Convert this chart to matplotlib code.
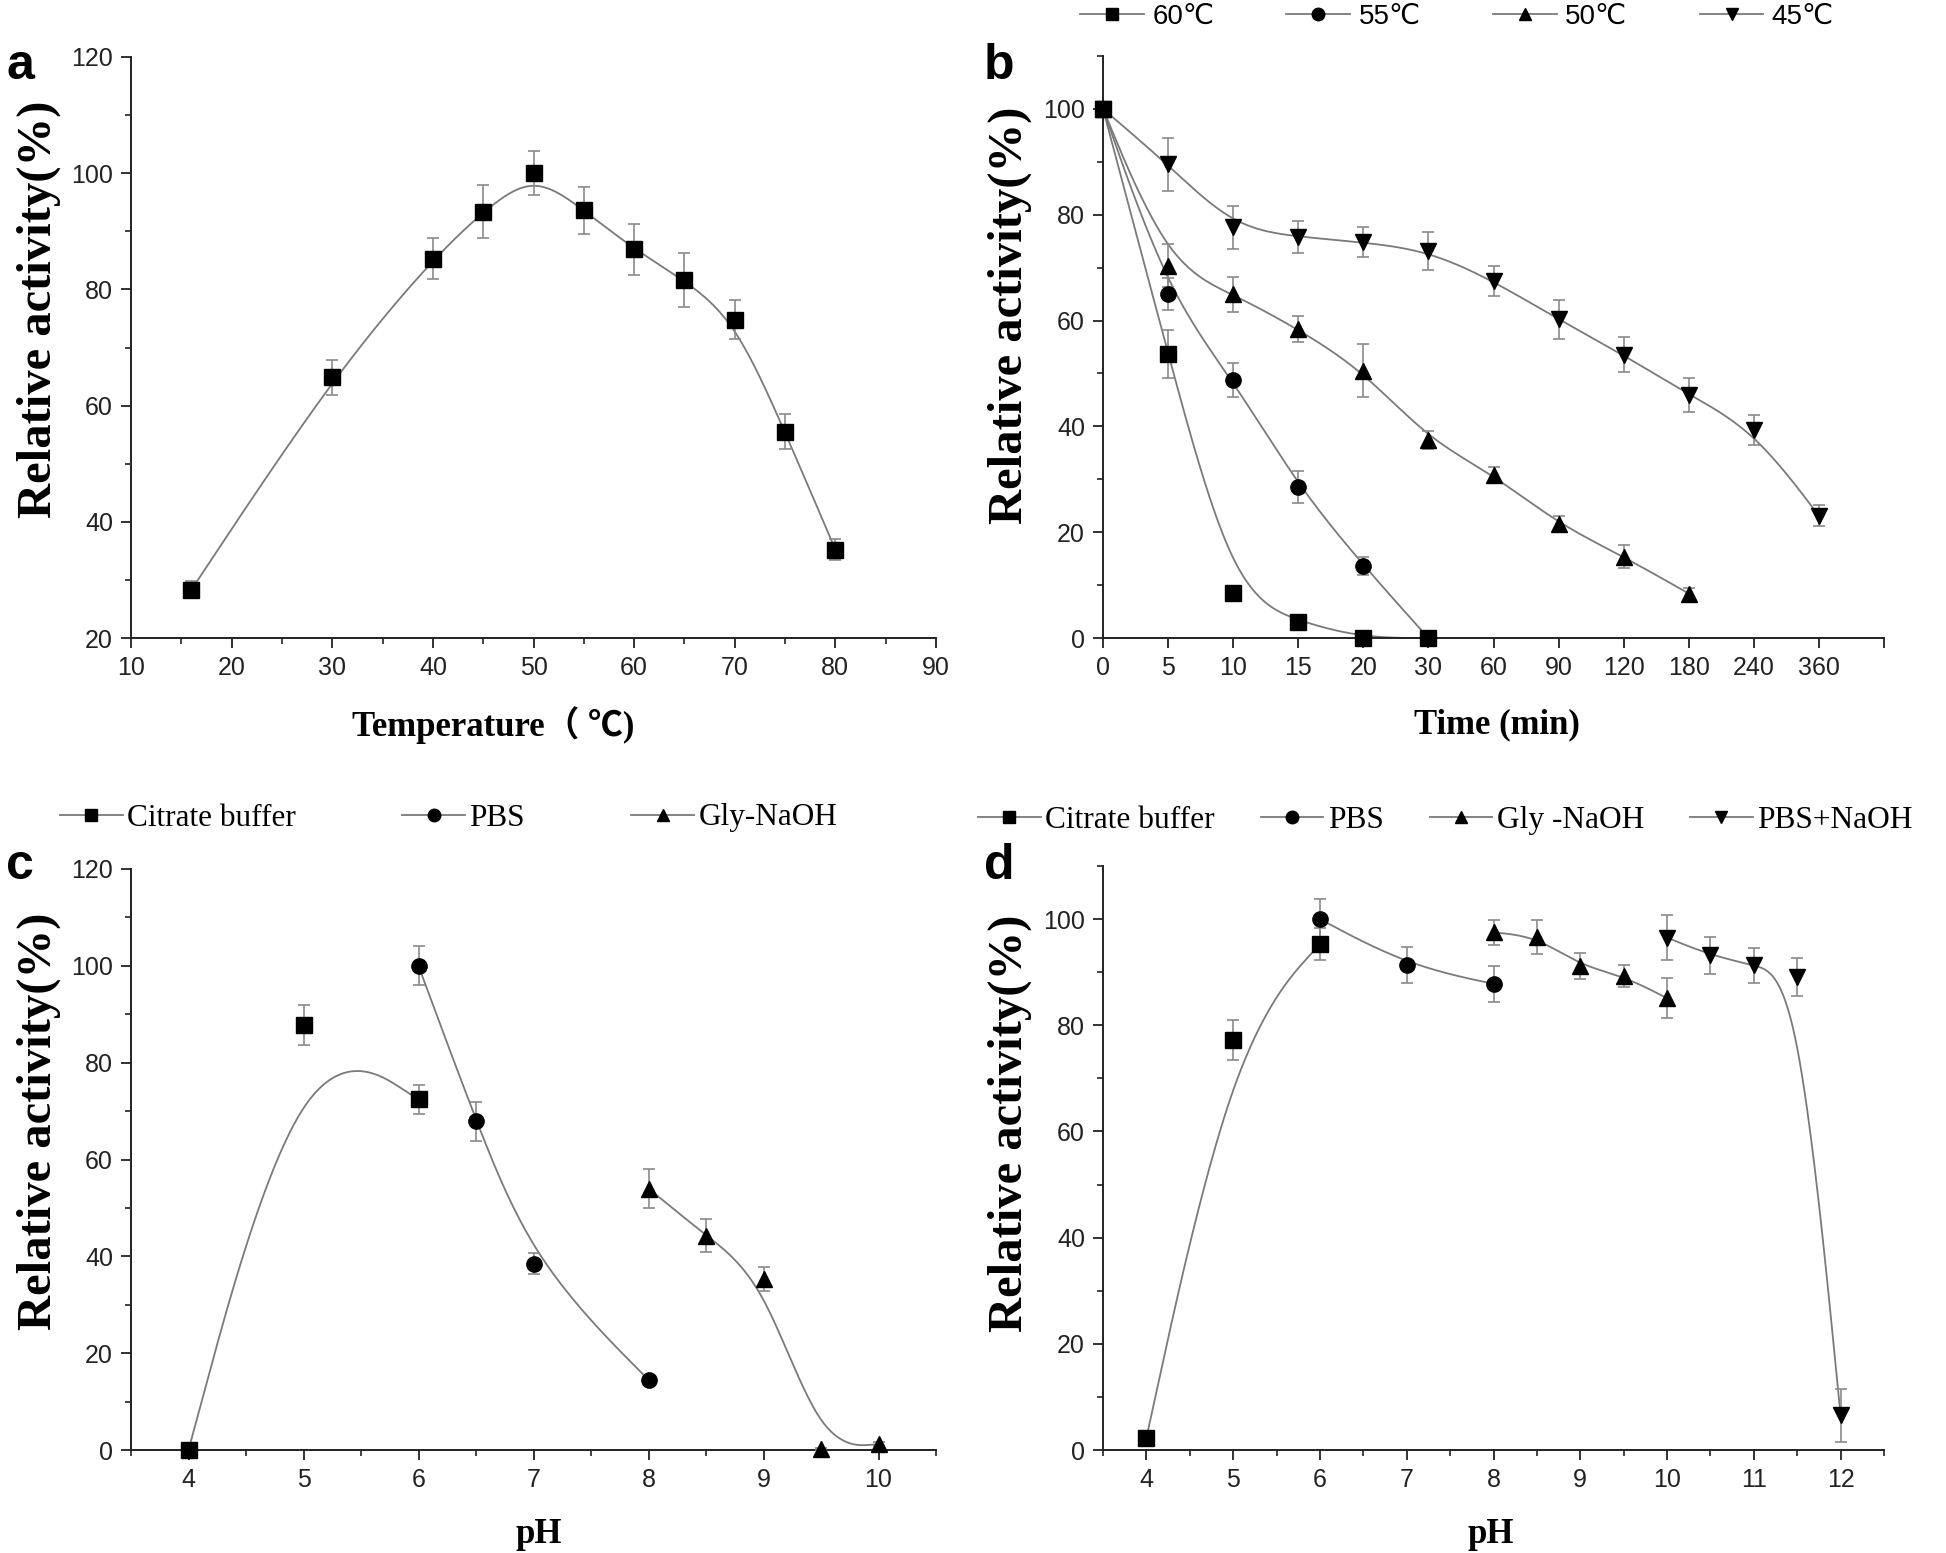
import numpy as np
import matplotlib
matplotlib.use('agg')
import matplotlib.pyplot as plt
from matplotlib.lines import Line2D
from matplotlib.ticker import MultipleLocator, FixedLocator
from matplotlib.font_manager import FontProperties

# ---------------------------------------------------------------- data
# (a) temperature optimum
temp = [16, 30, 40, 45, 50, 55, 60, 65, 70, 75, 80]
temp_act = [28.3, 64.9, 85.3, 93.4, 100.0, 93.6, 86.9, 81.6, 74.8, 55.5, 35.2]
temp_err = [1.5, 3.0, 3.5, 4.5, 3.8, 4.0, 4.4, 4.6, 3.3, 3.0, 1.8]

# (b) thermal stability, time points are plotted as categories
time_labels = ['0', '5', '10', '15', '20', '30', '60', '90', '120', '180', '240', '360']
t60 = [100, 53.7, 8.5, 3.1, 0.0, 0.0]
t60_err = [0, 4.5, 0.8, 0.5, 0.3, 0]
t55 = [100, 65.0, 48.8, 28.6, 13.7, 0.0]
t55_err = [0, 3.0, 3.2, 3.0, 1.7, 0.3]
t50 = [100, 70.4, 65.0, 58.4, 50.5, 37.5, 30.9, 21.5, 15.4, 8.4]
t50_err = [0, 4.0, 3.3, 2.5, 5.0, 1.7, 1.5, 1.5, 2.2, 1.0]
t45 = [100, 89.5, 77.6, 75.8, 74.8, 73.2, 67.5, 60.2, 53.5, 46.0, 39.3, 23.1]
t45_err = [0, 5.0, 4.0, 3.0, 2.8, 3.6, 2.8, 3.7, 3.3, 3.2, 2.8, 2.0]

# (c) pH optimum
c_cit_ph = [4, 5, 6]
c_cit = [0.0, 87.8, 72.4]
c_cit_err = [0.3, 4.2, 3.0]
c_pbs_ph = [6, 6.5, 7, 8]
c_pbs = [100.0, 67.9, 38.5, 14.5]
c_pbs_err = [4.0, 4.0, 2.2, 1.0]
c_gly_ph = [8, 8.5, 9, 9.5, 10]
c_gly = [54.0, 44.3, 35.3, 0.3, 1.2]
c_gly_err = [4.0, 3.5, 2.5, 0.2, 0.4]

# (d) pH stability
d_cit_ph = [4, 5, 6]
d_cit = [2.3, 77.2, 95.3]
d_cit_err = [0.5, 3.8, 3.0]
d_pbs_ph = [6, 7, 8]
d_pbs = [100.0, 91.3, 87.8]
d_pbs_err = [3.8, 3.4, 3.4]
d_gly_ph = [8, 8.5, 9, 9.5, 10]
d_gly = [97.5, 96.7, 91.2, 89.3, 85.1]
d_gly_err = [2.4, 3.2, 2.5, 2.0, 3.8]
d_mix_ph = [10, 10.5, 11, 11.5, 12]
d_mix = [96.5, 93.2, 91.3, 89.1, 6.5]
d_mix_err = [4.2, 3.5, 3.3, 3.5, 5.0]

# ---------------------------------------------------------------- style
SANS = ['Liberation Sans Narrow', 'Liberation Sans', 'DejaVu Sans', 'Noto Sans CJK SC']
SERIF = ['Liberation Serif', 'Noto Sans CJK SC']
LINE_C = '#7a7a7a'
ERR_C = '#8a8a8a'
AX_C = '#222222'

W, H = 1946, 1553
fig = plt.figure(figsize=(W / 100, H / 100), dpi=100)


def box(l, t, r, b):
    return [l / W, 1 - b / H, (r - l) / W, (b - t) / H]


def bspline(x, y, n=60):
    # clamped uniform cubic B-spline through the data (Origin-style connect)
    p = np.column_stack([x, y]).astype(float)
    p = np.vstack([p[0], p[0], p, p[-1], p[-1]])
    t = np.linspace(0, 1, n)
    b0 = (1 - t) ** 3 / 6
    b1 = (3 * t ** 3 - 6 * t ** 2 + 4) / 6
    b2 = (-3 * t ** 3 + 3 * t ** 2 + 3 * t + 1) / 6
    b3 = t ** 3 / 6
    out = []
    for i in range(len(p) - 3):
        seg = (np.outer(b0, p[i]) + np.outer(b1, p[i + 1])
               + np.outer(b2, p[i + 2]) + np.outer(b3, p[i + 3]))
        out.append(seg)
    out = np.vstack(out)
    return out[:, 0], out[:, 1]


def series(ax, x, y, err, marker, ms=11):
    sx, sy = bspline(x, y)
    ax.plot(sx, sy, color=LINE_C, lw=1.3, zorder=2)
    ax.errorbar(x, y, yerr=err, fmt='none', ecolor=ERR_C, elinewidth=1.2,
                capsize=4.5, capthick=1.2, zorder=3)
    ax.plot(x, y, ls='none', marker=marker, ms=ms, color='black', zorder=4,
            clip_on=False)


def style(ax):
    for s in ['top', 'right']:
        ax.spines[s].set_visible(False)
    for s in ['left', 'bottom']:
        ax.spines[s].set_color(AX_C)
        ax.spines[s].set_linewidth(1.4)
    ax.tick_params(which='major', direction='out', length=7, width=1.3,
                   color=AX_C, labelsize=18, pad=6)
    ax.tick_params(which='minor', direction='out', length=4.5, width=1.2,
                   color=AX_C)
    for lab in ax.get_xticklabels() + ax.get_yticklabels():
        lab.set_family(SANS)
        lab.set_color('#222222')


def labels(ax, xl, yl, xpos, ypos):
    ax.set_xlabel(xl, family=SERIF, fontweight='bold', fontsize=25)
    ax.set_ylabel(yl, family=SERIF, fontweight='bold', fontsize=35)
    ax.xaxis.label.set_va('center')
    ax.yaxis.label.set_va('center')
    ax.xaxis.set_label_coords(xpos, -0.15)
    ax.yaxis.set_label_coords(-0.115, ypos)


def handle(marker):
    return Line2D([], [], color=LINE_C, lw=1.3, marker=marker, ms=9,
                  markerfacecolor='black', markeredgecolor='black')


# ---------------------------------------------------------------- (a)
ax_a = fig.add_axes(box(131, 57, 936, 638))
series(ax_a, temp, temp_act, temp_err, 's')
ax_a.set_xlim(10, 90)
ax_a.set_ylim(20, 120)
ax_a.xaxis.set_major_locator(MultipleLocator(10))
ax_a.xaxis.set_minor_locator(MultipleLocator(5))
ax_a.yaxis.set_major_locator(MultipleLocator(20))
ax_a.yaxis.set_minor_locator(MultipleLocator(10))
style(ax_a)
labels(ax_a, 'Temperature（ ℃)', 'Relative activity(%)', 0.45, 0.565)

# ---------------------------------------------------------------- (b)
ax_b = fig.add_axes(box(1103, 56, 1884, 638))
series(ax_b, np.arange(len(t60)), t60, t60_err, 's')
series(ax_b, np.arange(len(t55)), t55, t55_err, 'o')
series(ax_b, np.arange(len(t50)), t50, t50_err, '^')
series(ax_b, np.arange(len(t45)), t45, t45_err, 'v')
ax_b.set_xlim(0, len(time_labels))
ax_b.set_ylim(0, 110)
ax_b.xaxis.set_major_locator(FixedLocator(np.arange(len(time_labels) + 1)))
ax_b.set_xticklabels(time_labels + [''])
ax_b.yaxis.set_major_locator(MultipleLocator(20))
ax_b.yaxis.set_minor_locator(MultipleLocator(10))
style(ax_b)
labels(ax_b, 'Time (min)', 'Relative activity(%)', 0.505, 0.555)
ax_b.yaxis.set_label_coords(-0.119, 0.555)
fig.legend([handle('s'), handle('o'), handle('^'), handle('v')],
           ['60℃', '55℃', '50℃', '45℃'], ncol=4, frameon=False,
           loc='center left', bbox_to_anchor=(1080 / W, 1 - 17 / H),
           prop=FontProperties(family=SANS, size=20), handlelength=2.3,
           handletextpad=0.3, columnspacing=2.6, borderpad=0, borderaxespad=0)

# ---------------------------------------------------------------- (c)
ax_c = fig.add_axes(box(131, 869, 936, 1450))
series(ax_c, c_cit_ph, c_cit, c_cit_err, 's')
series(ax_c, c_pbs_ph, c_pbs, c_pbs_err, 'o')
series(ax_c, c_gly_ph, c_gly, c_gly_err, '^')
ax_c.set_xlim(3.5, 10.5)
ax_c.set_ylim(0, 120)
ax_c.xaxis.set_major_locator(MultipleLocator(1))
ax_c.xaxis.set_minor_locator(MultipleLocator(0.5))
ax_c.yaxis.set_major_locator(MultipleLocator(20))
ax_c.yaxis.set_minor_locator(MultipleLocator(10))
style(ax_c)
labels(ax_c, 'pH', 'Relative activity(%)', 0.506, 0.566)
ax_c.xaxis.set_label_coords(0.506, -0.145)
fig.legend([handle('s'), handle('o'), handle('^')],
           ['Citrate buffer', 'PBS', 'Gly-NaOH'], ncol=3, frameon=False,
           loc='center left', bbox_to_anchor=(60 / W, 1 - 818 / H),
           prop=FontProperties(family=SERIF, size=22.5), handlelength=2.0,
           handletextpad=0.15, columnspacing=3.4, borderpad=0, borderaxespad=0)

# ---------------------------------------------------------------- (d)
ax_d = fig.add_axes(box(1103, 866, 1884, 1450))
series(ax_d, d_cit_ph, d_cit, d_cit_err, 's')
series(ax_d, d_pbs_ph, d_pbs, d_pbs_err, 'o')
series(ax_d, d_gly_ph, d_gly, d_gly_err, '^')
series(ax_d, d_mix_ph, d_mix, d_mix_err, 'v')
ax_d.set_xlim(3.5, 12.5)
ax_d.set_ylim(0, 110)
ax_d.xaxis.set_major_locator(MultipleLocator(1))
ax_d.xaxis.set_minor_locator(MultipleLocator(0.5))
ax_d.yaxis.set_major_locator(MultipleLocator(20))
ax_d.yaxis.set_minor_locator(MultipleLocator(10))
style(ax_d)
labels(ax_d, 'pH', 'Relative activity(%)', 0.497, 0.56)
ax_d.yaxis.set_label_coords(-0.119, 0.56)
ax_d.xaxis.set_label_coords(0.497, -0.145)
fig.legend([handle('s'), handle('o'), handle('^'), handle('v')],
           ['Citrate buffer', 'PBS', 'Gly -NaOH', 'PBS+NaOH'], ncol=4,
           frameon=False, loc='center left',
           bbox_to_anchor=(978 / W, 1 - 820 / H),
           prop=FontProperties(family=SERIF, size=22.6), handlelength=2.0,
           handletextpad=0.15, columnspacing=1.45, borderpad=0, borderaxespad=0)

# ---------------------------------------------------------------- panel letters
for lx, ly, s in [(6, 66, 'a'), (984, 66, 'b'), (6, 866, 'c'), (984, 866, 'd')]:
    fig.text(lx / W, 1 - ly / H, s, family=SANS[1:], fontweight='bold',
             fontsize=36, va='center', ha='left')

fig.savefig('out.png', dpi=100)
